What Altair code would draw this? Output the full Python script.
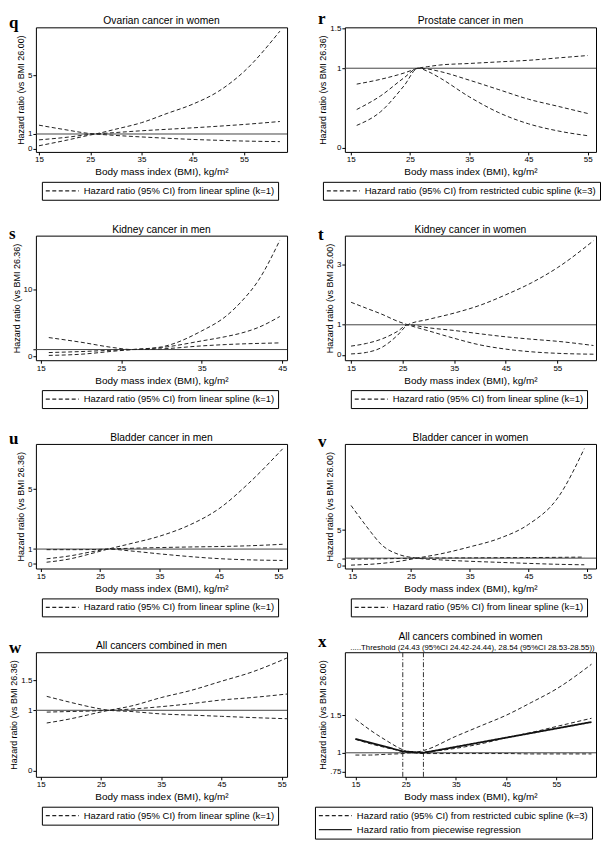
import altair as alt
import pandas as pd

FONT = "Liberation Sans"
SERIF = "Liberation Serif"
LIN = "Hazard ratio (95% CI) from linear spline (k=1)"
RCS = "Hazard ratio (95% CI) from restricted cubic spline (k=3)"
PWL = "Hazard ratio from piecewise regression"
XTITLE = "Body mass index (BMI), kg/m²"
X_TICKS = [15, 25, 35, 45, 55]
X_TICKS_S = [15, 25, 35, 45]

# q: Ovarian cancer in women (ref 26.00)
Q_BMI = [15, 20, 25, 26, 30, 35, 40, 45, 50, 55, 62]
Q_1 = [0.20, 0.55, 0.93, 1.00, 1.33, 1.77, 2.40, 3.03, 3.90, 5.25, 8.00]
Q_2 = [0.60, 0.76, 0.97, 1.00, 1.10, 1.22, 1.32, 1.42, 1.53, 1.65, 1.85]
Q_3 = [1.60, 1.30, 1.03, 1.00, 0.90, 0.80, 0.71, 0.63, 0.57, 0.52, 0.48]

# r: Prostate cancer in men (ref 26.36)
R_BMI = [16, 20, 24, 26.36, 28, 30, 35, 40, 45, 50, 55]
R_1 = [0.80, 0.86, 0.94, 1.00, 1.02, 1.04, 1.06, 1.08, 1.10, 1.13, 1.16]
R_2 = [0.48, 0.65, 0.88, 1.00, 0.99, 0.96, 0.85, 0.73, 0.61, 0.52, 0.43]
R_3 = [0.28, 0.45, 0.78, 1.00, 0.96, 0.88, 0.64, 0.44, 0.30, 0.21, 0.15]

# s: Kidney cancer in men (ref 26.36)
S_BMI = [16, 20, 24, 26.36, 30, 35, 38, 40, 42, 44.7]
S_1 = [0.12, 0.30, 0.75, 1.00, 1.40, 3.80, 6.00, 8.30, 11.3, 17.4]
S_2 = [0.55, 0.70, 0.90, 1.00, 1.30, 2.30, 2.95, 3.50, 4.30, 5.96]
S_3 = [2.80, 2.10, 1.30, 1.00, 1.10, 1.55, 1.75, 1.85, 1.92, 2.00]

# t: Kidney cancer in women (ref 26.00)
T_BMI = [15, 18, 21, 24, 26, 30, 35, 40, 45, 50, 55, 62]
T_1 = [0.03, 0.08, 0.25, 0.65, 1.00, 1.18, 1.39, 1.65, 2.00, 2.40, 2.90, 3.80]
T_2 = [0.29, 0.38, 0.53, 0.78, 1.00, 0.90, 0.81, 0.70, 0.60, 0.52, 0.45, 0.31]
T_3 = [1.75, 1.55, 1.35, 1.12, 1.00, 0.80, 0.55, 0.33, 0.19, 0.10, 0.05, 0.02]

# u: Bladder cancer in men (ref 26.36)
U_BMI = [16, 20, 24, 26.36, 30, 35, 40, 45, 50, 55.7]
U_1 = [0.12, 0.35, 0.75, 1.00, 1.35, 1.86, 2.60, 3.70, 5.40, 7.70]
U_2 = [0.35, 0.55, 0.85, 1.00, 1.05, 1.10, 1.14, 1.17, 1.22, 1.32]
U_3 = [0.96, 0.96, 0.97, 1.00, 0.88, 0.68, 0.50, 0.36, 0.28, 0.24]

# v: Bladder cancer in women (ref 26.00)
V_BMI = [14.8, 17, 18, 20, 23, 26, 30, 35, 40, 45, 50, 54.5]
V_1 = [0.00, 0.08, 0.12, 0.25, 0.55, 1.00, 1.60, 2.60, 3.80, 5.80, 9.60, 16.6]
V_2 = [0.85, 0.87, 0.88, 0.90, 0.95, 1.00, 1.02, 1.04, 1.06, 1.08, 1.11, 1.15]
V_3 = [8.50, 6.00, 4.90, 2.90, 1.50, 1.00, 0.75, 0.55, 0.40, 0.25, 0.12, 0.05]

# w: All cancers combined in men (ref 26.36)
W_BMI = [16, 20, 24, 26.36, 30, 35, 40, 45, 50, 56]
W_1 = [0.79, 0.86, 0.95, 1.00, 1.07, 1.21, 1.33, 1.48, 1.63, 1.87]
W_2 = [0.97, 0.98, 0.99, 1.00, 1.02, 1.06, 1.11, 1.17, 1.21, 1.27]
W_3 = [1.23, 1.13, 1.04, 1.00, 0.98, 0.94, 0.92, 0.90, 0.88, 0.86]

# x: All cancers combined in women (ref 26.00)
X_BMI = [15, 18, 21, 24.43, 26, 28.54, 35, 40, 45, 50, 55, 62]
X_1 = [1.45, 1.30, 1.17, 1.04, 1.00, 1.03, 1.22, 1.36, 1.50, 1.67, 1.85, 2.18]
X_2 = [1.18, 1.12, 1.07, 1.02, 1.00, 1.01, 1.06, 1.12, 1.20, 1.27, 1.35, 1.46]
X_3 = [0.97, 0.97, 0.98, 0.99, 1.00, 0.99, 0.99, 0.99, 0.99, 0.985, 0.985, 0.985]
PW_BMI = [15, 24.43, 28.54, 62]
PW_HR = [1.185, 1.02, 1.00, 1.41]
THRESHOLDS = [24.43, 28.54]
THRESH_TEXT = ".....Threshold (24.43 (95%CI 24.42-24.44), 28.54 (95%CI 28.53-28.55))"

W, H = 252, 125
DASH = [4, 2.5]


def long_df(bmi, curves, kind):
    rows = []
    for name, vals in curves:
        for b, v in zip(bmi, vals):
            rows.append({"bmi": b, "hr": v, "curve": name, "kind": kind})
    return pd.DataFrame(rows)


def text_layer(txt, xpos, ypos, size, font=FONT, weight="normal", align="center"):
    return (
        alt.Chart(pd.DataFrame({"t": [txt]}))
        .mark_text(font=font, fontWeight=weight, fontSize=size, align=align,
                   baseline="alphabetic", color="black")
        .encode(text="t:N", x=alt.value(xpos), y=alt.value(ypos))
    )


def panel(letter, title, ref, df, xdom, xticks, ydom, yticks, legx,
          kinds, dashes, ylabel_expr=None, pw_df=None, thresholds=None,
          subtitle=None, letter_y=1):
    x = alt.X("bmi:Q", scale=alt.Scale(domain=xdom, nice=False, zero=False),
              axis=alt.Axis(values=xticks, title=XTITLE))
    yax = dict(values=yticks, title=f"Hazard ratio (vs BMI {ref})", format="~g")
    if ylabel_expr:
        yax["labelExpr"] = ylabel_expr
    y = alt.Y("hr:Q", scale=alt.Scale(domain=ydom, nice=False, zero=False),
              axis=alt.Axis(**yax))
    dash_scale = alt.Scale(domain=kinds, range=dashes)
    legend = alt.Legend(orient="none", legendX=legx, legendY=H + 30, title=None)

    layers = []
    layers.append(
        alt.Chart(pd.DataFrame({"hr": [1.0]}))
        .mark_rule(color="#444", strokeWidth=1)
        .encode(y=y)
    )
    if thresholds is not None:
        layers.append(
            alt.Chart(pd.DataFrame({"bmi": thresholds}))
            .mark_rule(color="#333", strokeWidth=1, strokeDash=[5, 2, 1, 2])
            .encode(x=x)
        )
    layers.append(
        alt.Chart(df)
        .mark_line(color="#222", strokeWidth=1, interpolate="monotone")
        .encode(x=x, y=y, detail="curve:N",
                strokeDash=alt.StrokeDash("kind:N", scale=dash_scale, legend=legend))
    )
    if pw_df is not None:
        layers.append(
            alt.Chart(pw_df)
            .mark_line(color="#111", strokeWidth=1.8)
            .encode(x=x, y=y, detail="curve:N",
                    strokeDash=alt.StrokeDash("kind:N", scale=dash_scale, legend=legend))
        )
    layers.append(text_layer(letter, -27, letter_y, 17, font=SERIF, weight="bold", align="left"))
    if subtitle:
        layers.append(text_layer(title, W / 2, -12, 10.3))
        layers.append(text_layer(subtitle, W / 2 + 2, -2, 7.8))
    else:
        layers.append(text_layer(title, W / 2, -3, 10.3))
    return alt.layer(*layers).properties(width=W, height=H)


pq = panel("q", "Ovarian cancer in women", "26.00",
           long_df(Q_BMI, [("a", Q_1), ("b", Q_2), ("c", Q_3)], LIN),
           [14.4, 63.4], X_TICKS, [-0.22, 8.26], [0, 1, 5], 6, [LIN], [DASH])
pr = panel("r", "Prostate cancer in men", "26.36",
           long_df(R_BMI, [("a", R_1), ("b", R_2), ("c", R_3)], RCS),
           [14.0, 56.4], X_TICKS, [-0.054, 1.515], [0, 1, 1.5], -22, [RCS], [DASH],
           letter_y=-3)
ps = panel("s", "Kidney cancer in men", "26.36",
           long_df(S_BMI, [("a", S_1), ("b", S_2), ("c", S_3)], LIN),
           [14.4, 45.6], X_TICKS_S, [-0.6, 18.1], [0, 1, 10], 6, [LIN], [DASH],
           letter_y=3)
pt = panel("t", "Kidney cancer in women", "26.00",
           long_df(T_BMI, [("a", T_1), ("b", T_2), ("c", T_3)], LIN),
           [13.8, 62.5], X_TICKS, [-0.18, 3.97], [0, 1, 3], 6, [LIN], [DASH],
           letter_y=4)
pu = panel("u", "Bladder cancer in men", "26.36",
           long_df(U_BMI, [("a", U_1), ("b", U_2), ("c", U_3)], LIN),
           [14.2, 56.45], X_TICKS, [-0.3, 8.03], [0, 1, 5], 6, [LIN], [DASH],
           letter_y=0)
pv = panel("v", "Bladder cancer in women", "26.00",
           long_df(V_BMI, [("a", V_1), ("b", V_2), ("c", V_3)], LIN),
           [13.75, 56.5], X_TICKS, [-0.48, 17.27], [0, 1, 5], 6, [LIN], [DASH],
           letter_y=3)
pw = panel("w", "All cancers combined in men", "26.36",
           long_df(W_BMI, [("a", W_1), ("b", W_2), ("c", W_3)], LIN),
           [14.2, 55.9], X_TICKS, [-0.1, 1.96], [0, 1, 1.5], 6, [LIN], [DASH])
px = panel("x", "All cancers combined in women", "26.00",
           long_df(X_BMI, [("a", X_1), ("b", X_2), ("c", X_3)], RCS),
           [12.9, 62.9], X_TICKS, [0.68, 2.34], [0.75, 1, 1.5], -30,
           [RCS, PWL], [DASH, [1, 0]],
           ylabel_expr="datum.value == 0.75 ? '.75' : datum.label",
           pw_df=long_df(PW_BMI, [("pw", PW_HR)], PWL),
           thresholds=THRESHOLDS, subtitle=THRESH_TEXT, letter_y=-5)

chart = (
    alt.ConcatChart(concat=[pq, pr, ps, pt, pu, pv, pw, px], columns=2,
                    spacing=alt.RowColnumber(row=84, column=58), bounds="flush")
    .resolve_scale(strokeDash="independent")
    .resolve_legend(strokeDash="independent")
    .properties(padding=0, background="white")
    .configure_view(stroke="black", strokeWidth=1)
    .configure_axis(domain=False, grid=False, tickColor="black", tickSize=3,
                    labelFont=FONT, labelFontSize=8, labelColor="black",
                    titleFont=FONT, titleFontWeight="normal", titleColor="black")
    .configure_axisX(titleFontSize=10, titlePadding=3, labelPadding=1)
    .configure_axisY(titleFontSize=9, titlePadding=2, labelPadding=1)
    .configure_legend(strokeColor="black", padding=3, fillColor="white",
                      labelFont=FONT, labelFontSize=9.5, labelColor="black",
                      labelLimit=400, symbolType="stroke", symbolSize=1100,
                      clipHeight=12,
                      symbolStrokeWidth=1.2, symbolStrokeColor="#222", rowPadding=2)
)

chart.save("out.html", embed_options={"renderer": "svg", "actions": False})
